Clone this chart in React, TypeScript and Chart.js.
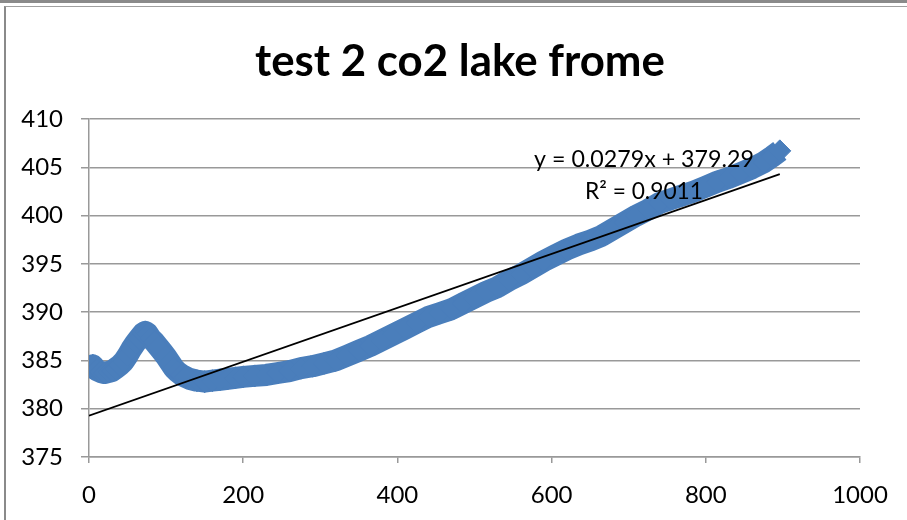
import React, { useEffect, useRef } from "react";
import { Chart, registerables } from "chart.js";

Chart.register(...registerables);

// ---- data ----
const xValues = [
  0, 5, 10, 15, 20, 25, 30, 35, 40, 45, 50, 55, 60, 65, 70, 73, 76, 80, 85, 90,
  95, 100, 105, 110, 115, 120, 125, 130, 140, 150, 160, 170, 180, 190, 200, 215,
  230, 245, 260, 275, 290, 305, 320, 335, 350, 365, 380, 395, 410, 425, 440, 455,
  470, 485, 500, 515, 530, 545, 560, 575, 590, 605, 620, 635, 650, 665, 680, 695,
  710, 725, 740, 755, 770, 785, 800, 815, 830, 845, 860, 875, 886, 896,
];
const co2Values = [
  384.3, 384.5, 384.0, 383.8, 383.7, 383.8, 383.9, 384.2, 384.5, 384.9, 385.5,
  386.2, 386.8, 387.3, 387.8, 387.95, 387.8, 387.3, 386.9, 386.4, 385.9, 385.4,
  384.8, 384.2, 383.8, 383.5, 383.3, 383.1, 382.9, 382.8, 382.9, 383.0, 383.1,
  383.2, 383.3, 383.4, 383.5, 383.7, 383.9, 384.2, 384.4, 384.7, 385.0, 385.5,
  386.0, 386.5, 387.1, 387.7, 388.3, 388.9, 389.5, 389.9, 390.3, 390.9, 391.5,
  392.1, 392.6, 393.3, 393.9, 394.6, 395.3, 395.9, 396.5, 397.0, 397.4, 397.9,
  398.6, 399.3, 400.0, 400.6, 401.3, 401.7, 402.1, 402.5, 403.0, 403.5, 403.9,
  404.4, 404.9, 405.5, 406.1, 406.7,
];
const trendSlope = 0.0279;
const trendIntercept = 379.29;
const titleText = "test 2 co2 lake frome";
const equationText = "y = 0.0279x + 379.29";
const r2Text = "R\u00b2 = 0.9011";
const xMin = 0, xMax = 1000, xStep = 200;
const yMin = 375, yMax = 410, yStep = 5;

const FONT = "Lato, 'Open Sans', sans-serif";
const GRID = "#999999";
const BLUE = "#4a7ebb";

function drawFitted(ctx: CanvasRenderingContext2D, text: string, weight: string, targetW: number, cx: number, baseline: number) {
  ctx.font = `${weight} 40px ${FONT}`;
  const w = ctx.measureText(text).width;
  const size = (40 * targetW) / w;
  ctx.font = `${weight} ${size}px ${FONT}`;
  ctx.textAlign = "center";
  ctx.textBaseline = "alphabetic";
  ctx.fillText(text, cx, baseline);
}

const textPlugin = {
  id: "texts",
  afterDatasetsDraw(chart: any) {
    const ctx = chart.ctx as CanvasRenderingContext2D;
    ctx.save();
    ctx.fillStyle = "#000";
    drawFitted(ctx, titleText, "bold", 410, 454, 69);
    drawFitted(ctx, equationText, "normal", 220, 638, 160);
    drawFitted(ctx, r2Text, "normal", 118, 638, 192);
    ctx.restore();
  },
};

export default function App() {
  const ref = useRef<HTMLCanvasElement | null>(null);

  useEffect(() => {
    document.body.style.margin = "0";
    const canvas = ref.current;
    if (!canvas) return;
    const points = xValues.map((x, i) => ({ x, y: co2Values[i] }));
    const x0 = xValues[0];
    const x1 = xValues[xValues.length - 1];
    const trend = [
      { x: x0, y: trendIntercept + trendSlope * x0 },
      { x: x1, y: trendIntercept + trendSlope * x1 },
    ];
    const chart = new Chart(canvas, {
      type: "scatter",
      data: {
        datasets: [
          {
            type: "line",
            data: trend,
            borderColor: "#000",
            borderWidth: 1.75,
            pointRadius: 0,
            fill: false,
            order: 0,
          } as any,
          {
            data: points,
            showLine: true,
            borderColor: BLUE,
            backgroundColor: BLUE,
            borderWidth: 22,
            pointStyle: "rectRot",
            pointRadius: 11,
            pointBorderWidth: 1,
            pointBorderColor: BLUE,
            pointBackgroundColor: BLUE,
            borderJoinStyle: "round",
            order: 1,
          } as any,
        ],
      },
      options: {
        responsive: false,
        animation: false,
        devicePixelRatio: 1,
        layout: { padding: { left: 0, right: 58, top: 112, bottom: 0 } },
        plugins: {
          legend: { display: false },
          title: { display: false },
          tooltip: { enabled: false },
        },
        scales: {
          x: {
            type: "linear",
            min: xMin,
            max: xMax,
            ticks: {
              stepSize: xStep,
              color: "#000",
              font: { family: FONT, size: 24 },
              padding: 17.5,
              maxRotation: 0,
              callback: (v: any) => String(v),
            },
            grid: {
              drawOnChartArea: false,
              drawTicks: true,
              tickLength: 6,
              color: GRID,
              lineWidth: 1.5,
            },
            border: { display: true, color: GRID, width: 1.5 },
            afterFit: (s: any) => {
              s.height = 63;
            },
          },
          y: {
            type: "linear",
            min: yMin,
            max: yMax,
            ticks: {
              stepSize: yStep,
              color: "#000",
              font: { family: FONT, size: 24 },
              padding: 18,
              callback: (v: any) => String(v),
            },
            grid: {
              drawOnChartArea: true,
              drawTicks: true,
              tickLength: 8,
              color: GRID,
              lineWidth: 1.5,
            },
            border: { display: true, color: GRID, width: 1.5 },
            afterFit: (s: any) => {
              s.width = 83;
            },
          },
        },
      } as any,
      plugins: [textPlugin],
    });
    return () => chart.destroy();
  }, []);

  return (
    <div
      style={{
        position: "fixed",
        left: 0,
        top: 0,
        width: 907,
        height: 520,
        overflow: "hidden",
        background: "#fff",
      }}
    >
      <div style={{ position: "absolute", left: 0, top: 0, width: 907, height: 3, background: "#8a8a8a" }} />
      <div
        style={{
          position: "absolute",
          left: 4,
          top: 6,
          width: 930,
          height: 530,
          borderLeft: "2px solid #8a8a8a",
          borderTop: "1px solid #a0a0a0",
        }}
      />
      <div style={{ position: "absolute", left: 6, top: 7 }}>
        <canvas ref={ref} width={912} height={513} style={{ width: 912, height: 513, display: "block" }} />
      </div>
    </div>
  );
}
